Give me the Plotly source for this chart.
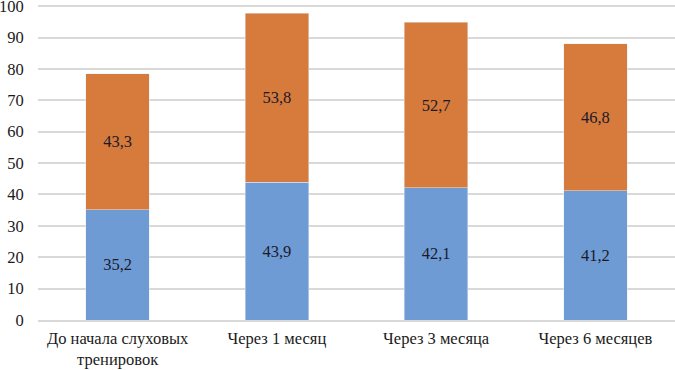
import plotly.graph_objects as go

categories = ["До начала слуховых<br>тренировок", "Через 1 месяц", "Через 3 месяца", "Через 6 месяцев"]
series_bottom = [35.2, 43.9, 42.1, 41.2]
series_top = [43.3, 53.8, 52.7, 46.8]
y_ticks = list(range(0, 101, 10))

def fmt(v):
    return f"{v:.1f}".replace(".", ",")

font_family = "Times New Roman, Liberation Serif, serif"
fs = 16.5

fig = go.Figure()
fig.add_trace(go.Bar(x=categories, y=series_bottom, marker_color="#6f9bd4",
                     text=[fmt(v) for v in series_bottom], textposition="inside",
                     insidetextanchor="middle", textangle=0,
                     textfont=dict(family=font_family, size=fs, color="#1a1a2a")))
fig.add_trace(go.Bar(x=categories, y=series_top, marker_color="#d67b3b",
                     text=[fmt(v) for v in series_top], textposition="inside",
                     insidetextanchor="middle", textangle=0,
                     textfont=dict(family=font_family, size=fs, color="#1a1a2a")))

fig.update_layout(
    barmode="stack", bargap=0.6, showlegend=False,
    width=675, height=370,
    margin=dict(l=38, r=0, t=3, b=50, autoexpand=False),
    plot_bgcolor="white", paper_bgcolor="white",
    font=dict(family=font_family, size=fs, color="#1a1a1a"),
    uniformtext=dict(minsize=fs, mode="show"),
)
fig.update_yaxes(range=[0, 101], tickvals=y_ticks, showgrid=True, gridcolor="#d9d9d9",
                 gridwidth=1.5, zeroline=False, showline=False, ticks="outside", ticklen=10,
                 tickcolor="rgba(0,0,0,0)", automargin=False, ticklabeloverflow="allow",
                 tickfont=dict(family=font_family, size=fs))
fig.update_xaxes(showline=True, linecolor="#d9d9d9", linewidth=1.5, ticks="outside",
                 ticklen=2, tickcolor="rgba(0,0,0,0)", automargin=False,
                 ticklabeloverflow="allow",
                 tickfont=dict(family=font_family, size=fs))

fig.write_html("out.html", config={"displayModeBar": False},
               post_script="document.body.style.margin='0';document.body.style.padding='0';")
